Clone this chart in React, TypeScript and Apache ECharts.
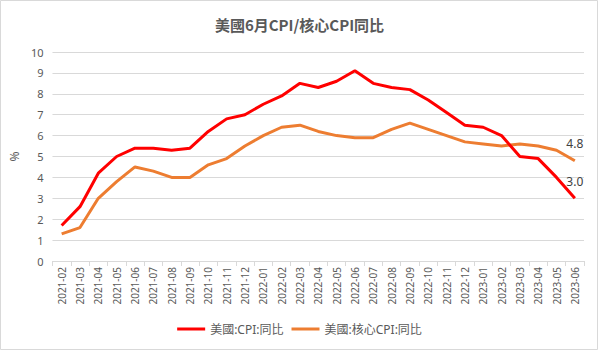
import React, { useEffect, useRef } from "react";
import * as echarts from "echarts";

const categories = [
  "2021-02", "2021-03", "2021-04", "2021-05", "2021-06", "2021-07", "2021-08", "2021-09", "2021-10", "2021-11", "2021-12",
  "2022-01", "2022-02", "2022-03", "2022-04", "2022-05", "2022-06", "2022-07", "2022-08", "2022-09", "2022-10", "2022-11", "2022-12",
  "2023-01", "2023-02", "2023-03", "2023-04", "2023-05", "2023-06",
];
const cpiYoY = [1.7, 2.6, 4.2, 5.0, 5.4, 5.4, 5.3, 5.4, 6.2, 6.8, 7.0, 7.5, 7.9, 8.5, 8.3, 8.6, 9.1, 8.5, 8.3, 8.2, 7.7, 7.1, 6.5, 6.4, 6.0, 5.0, 4.9, 4.0, 3.0];
const coreCpiYoY = [1.3, 1.6, 3.0, 3.8, 4.5, 4.3, 4.0, 4.0, 4.6, 4.9, 5.5, 6.0, 6.4, 6.5, 6.2, 6.0, 5.9, 5.9, 6.3, 6.6, 6.3, 6.0, 5.7, 5.6, 5.5, 5.6, 5.5, 5.3, 4.8];
const seriesNames = ["美國:CPI:同比", "美國:核心CPI:同比"];
const titleText = "美國6月CPI/核心CPI同比";

const withLastLabel = (arr: number[]) =>
  arr.map((v, i) =>
    i === arr.length - 1
      ? { value: v, label: { show: true, formatter: (p: any) => Number(p.value).toFixed(1) } }
      : v
  );

export default function App() {
  const ref = useRef<HTMLDivElement>(null);
  useEffect(() => {
    if (!ref.current) return;
    const chart = echarts.init(ref.current, null, { renderer: "svg" });
    const font = "'Noto Sans', 'Noto Sans CJK TC', sans-serif";
    chart.setOption({
      animation: false,
      backgroundColor: "#ffffff",
      title: {
        text: titleText,
        left: "center",
        top: 12,
        textStyle: { fontSize: 15, fontWeight: "bold", color: "#595959", fontFamily: "'Noto Sans CJK TC', sans-serif" },
      },
      graphic: [
        {
          type: "rect",
          shape: { x: 0.5, y: 0.5, width: 597, height: 349 },
          style: { fill: "none", stroke: "#d9d9d9", lineWidth: 1 },
          silent: true,
        },
      ],
      legend: {
        bottom: 11,
        left: "center",
        icon: "rect",
        itemWidth: 28,
        itemHeight: 3,
        itemGap: 8,
        textStyle: { fontSize: 12, color: "#595959", fontFamily: font },
        data: seriesNames,
      },
      grid: { left: 47, right: 15, top: 52, bottom: 90 },
      xAxis: {
        type: "category",
        data: categories,
        boundaryGap: true,
        axisLine: { lineStyle: { color: "#d9d9d9" } },
        axisTick: { show: true, interval: 0, length: 5, lineStyle: { color: "#d9d9d9" } },
        axisLabel: { rotate: 90, interval: 0, fontSize: 10, color: "#595959", margin: 6, fontFamily: font },
      },
      yAxis: {
        type: "value",
        min: 0,
        max: 10,
        interval: 1,
        name: "%",
        nameLocation: "middle",
        nameGap: 28,
        nameTextStyle: { fontSize: 12, color: "#595959", fontFamily: font },
        axisLine: { show: false },
        axisTick: { show: false },
        axisLabel: { fontSize: 11, color: "#595959", margin: 9, fontFamily: font },
        splitLine: { lineStyle: { color: "#d9d9d9" } },
      },
      series: [
        {
          name: seriesNames[0],
          type: "line",
          data: withLastLabel(cpiYoY),
          symbol: "circle",
          symbolSize: 0,
          showSymbol: true,
          lineStyle: { color: "#ff0000", width: 3 },
          itemStyle: { color: "#ff0000" },
          label: { position: "top", distance: 11, color: "#404040", fontSize: 12, fontFamily: font },
          z: 3,
        },
        {
          name: seriesNames[1],
          type: "line",
          data: withLastLabel(coreCpiYoY),
          symbol: "circle",
          symbolSize: 0,
          showSymbol: true,
          lineStyle: { color: "#ed7d31", width: 3 },
          itemStyle: { color: "#ed7d31" },
          label: { position: "top", distance: 11, color: "#404040", fontSize: 12, fontFamily: font },
          z: 2,
        },
      ],
    });
    return () => chart.dispose();
  }, []);
  return (
    <div style={{ position: "absolute", left: 0, top: 0, width: 599, height: 351 }}>
      <div ref={ref} style={{ width: 599, height: 351 }} />
    </div>
  );
}
